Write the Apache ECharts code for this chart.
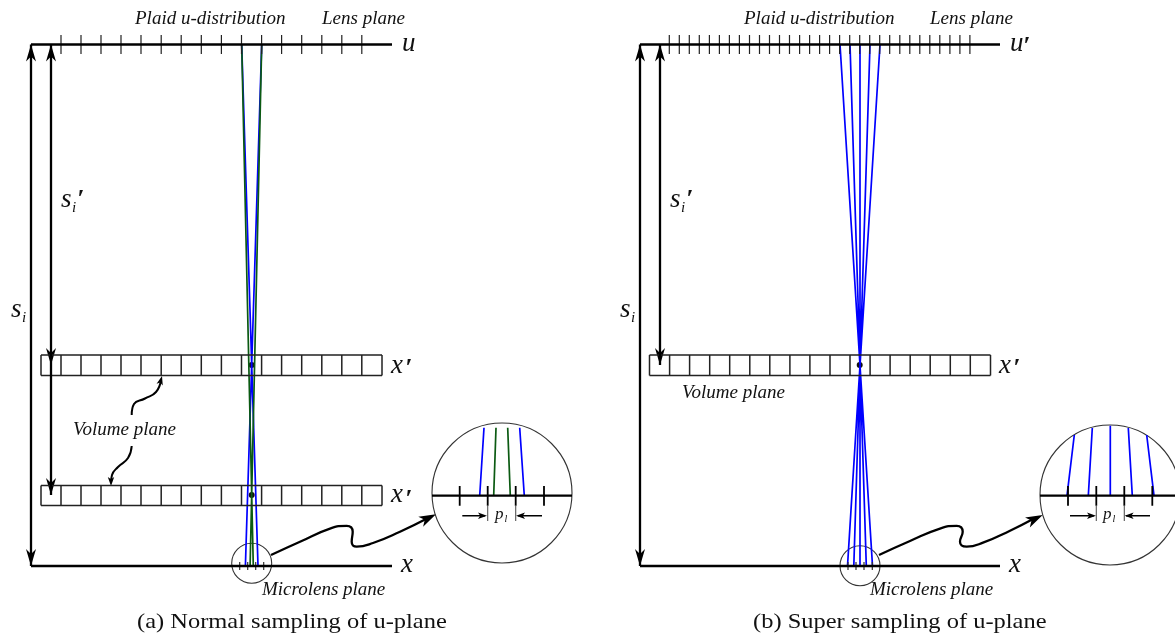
<!DOCTYPE html>
<html><head><meta charset="utf-8">
<style>html,body{margin:0;padding:0;background:#fff}#c{width:1175px;height:638px}</style>
<script src="https://cdn.jsdelivr.net/npm/echarts@6/dist/echarts.min.js"></script>
</head><body><div id="c"></div>
<script>
// ---- plane positions ----
const uTicksA = [61,81,101,121,141,161.2,181.2,201.3,221.4,241.5,261.6,281.6,301.7,321.8,341.8,361.8];
const uTicksB = [669.3,679.3,689.3,699.3,709.4,719.4,729.4,739.4,749.5,759.5,769.5,779.5,789.5,799.6,809.6,819.6,829.6,839.6,849.7,859.7,869.7,879.7,889.7,899.8,909.8,919.8,929.8,939.8,949.9,959.9,969.9];
const cellsA = [41,61,81,101,121,141,161.2,181.2,201.3,221.4,241.5,261.6,281.6,301.7,321.8,341.8,361.8,382];
const cellsB = [649.5,669.6,689.6,709.7,729.7,749.8,769.8,789.9,809.9,830,850,870.1,890.1,910.2,930.2,950.3,970.3,990.5];
const xTicksA = [239.7,247.7,255.7,263.7];
const xTicksB = [848,856,864,872.3];
const zoomTicksA = [459.7,487.7,515.7,544];
const zoomTicksB = [1068,1096.3,1124.3,1152.3];

// ---- rays: [x0,y0,x1,y1] ----
const blueRays = [
  [241.7,44.5,258,566],[261.7,44.5,245.4,566],
  [840,44.5,872.5,566],[850,44.5,866.3,566],[860,44.5,860,566],[870,44.5,853.8,566],[880,44.5,847.5,566],
  [484,427.7,479.7,495.7],[519.7,427.7,524.3,495.7],
  [1074.3,435,1067,495.7],[1092.3,428,1088.3,495.7],[1110.3,425.7,1110.3,495.7],[1128.3,428,1132.3,495.7],[1146.7,435,1154,495.7]
];
const greenRays = [
  [241.7,44.5,253.3,566],[261.7,44.5,250.1,566],
  [496,427.7,493.7,495.7],[507.7,427.7,510.3,495.7]
];

// ---- straight black segments ----
const axisLines = [
  [31,44.5,392,44.5],[31,566,392,566],[31,44.5,31,566],[51,44.5,51,495],
  [640,44.5,1000,44.5],[640,566,1000,566],[640,44.5,640,566],[660,44.5,660,365],
  [432,495.7,572,495.7],[1040,495.7,1175,495.7]
];
const dimLines = [[462.3,515.7,485,515.7],[542,515.7,518,515.7],[1070,515.7,1094,515.7],[1150,515.7,1126,515.7]];
const boxRows = [[355,375.5,'A'],[485.5,505.5,'A'],[355,375.5,'B']];

// ---- curved leaders ----
const leaderA = [[271,555],[300,541.8],[330,528.6],[346.7,525.8],[352.7,531.7],[351.7,541.7],[356.7,546.7],[373,543],[400,531.7],[428,518]];
const leaderB = [[879,555],[910,541],[940,528.6],[956.7,525.8],[962.7,531.7],[960,541.7],[966.7,546.7],[983,542.7],[1010,530.7],[1035,518]];
const volumeUp = [[131.7,415],[134,404],[145,398.5],[156,392],[161,380]];
const volumeDown = [[131.7,446],[128,458],[118,467],[112,475],[111,483]];

// ---- arrow tips: [x,y,directionDegrees] (0 = right, 90 = down) ----
const largeHeads = [[31,44.5,-90],[51,44.5,-90],[51,365,90],[51,495,90],[31,566,90],[640,44.5,-90],[660,44.5,-90],[660,365,90],[640,566,90]];
const leaderHeads = [[436,514.3,-26],[1042.7,515,-26]];
const smallHeads = [[162,376,-75],[111,486,90],[487,515.7,0],[516,515.7,180],[1096,515.7,0],[1124.6,515.7,180]];

// ---- circles and dots: [x,y] ----
const smallCircles = [[251.7,563.3],[860,565.7]];
const bigCircles = [[502,493],[1110,495]];
const focusDots = [[251.7,365],[251.7,495],[859.7,365]];

// ---- text: [x,y,string,styleKey] ----
const texts = [
  [135,19,'Plaid u-distribution','note'],[322,19,'Lens plane','note'],
  [744,19,'Plaid u-distribution','note'],[930,19,'Lens plane','note'],
  [73,430,'Volume plane','note'],[682,393,'Volume plane','note'],
  [262,590,'Microlens plane','note'],[870,590,'Microlens plane','note'],
  [402,44,'u','sym'],[1010,44,"u",'sym'],[1023,47,'\u2032','prime'],
  [401,565,'x','sym'],[1009,565,'x','sym'],
  [391,366,'x','sym'],[405,369,'\u2032','prime'],[391,495,'x','sym'],[405,500,'\u2032','prime'],[999,366,'x','sym'],[1013,369,'\u2032','prime'],
  [11,310,'s','sym'],[22,318,'i','sub'],[61,200,'s','sym'],[72,208,'i','sub'],[77,200,'\u2032','prime'],
  [620,310,'s','sym'],[631,318,'i','sub'],[670,200,'s','sym'],[681,208,'i','sub'],[686,200,'\u2032','prime'],
  [495,515,'p','pl'],[504.5,519,'l','plsub'],[1103,515,'p','pl'],[1112.5,519,'l','plsub'],
  [137,622,'(a) Normal sampling of u-plane','cap'],[753,622,'(b) Super sampling of u-plane','cap']
];

// ---- styles ----
const textStyles = {
  note:'italic 19px "Liberation Serif"', sym:'italic 27px "Liberation Serif"', sub:'italic 15px "Liberation Serif"',
  prime:'italic bold 26px "Liberation Serif"', pl:'italic 17px "Liberation Serif"', plsub:'italic 10px "Liberation Serif"',
  cap:'21px "Liberation Serif"'
};
const textStretch = {cap:1.165};

// helpers turn plain lists into library data
const polyline = segs => segs.flatMap(s => [[s[0],s[1]],[s[2],s[3]],[null,null]]);
const vticks = (xs,y0,y1) => xs.map(x => [x,y0,x,y1]);
const boxSegs = boxRows.flatMap(([t,b,p]) => {
  const c = p === 'A' ? cellsA : cellsB, l = c[0], r = c[c.length-1];
  return [[l,t,r,t],[l,b,r,b],...vticks(c,t,b)];
});
const line = (segs,color,width) => ({type:'line',data:polyline(segs),symbol:'none',silent:true,connectNulls:false,lineStyle:{color,width,cap:'butt'},clip:false});
const curve = (pts,width) => ({type:'line',data:pts,symbol:'none',smooth:0.5,silent:true,lineStyle:{color:'#000',width},clip:false});
const heads = (data,len,hw,notch) => ({type:'custom',data,silent:true,clip:false,
  renderItem:(p,api)=>{
    const c = api.coord([api.value(0),api.value(1)]), a = api.value(2)*Math.PI/180;
    const rot = (u,v)=>[c[0]+u*Math.cos(a)-v*Math.sin(a), c[1]+u*Math.sin(a)+v*Math.cos(a)];
    return {type:'polygon',shape:{points:[rot(0,0),rot(-len,-hw),rot(-len+notch,0),rot(-len,hw)]},style:{fill:'#000'}};
  }});
const circles = (data,size,color,bw) => ({type:'scatter',data,symbol:'circle',symbolSize:size,silent:true,clip:false,
  itemStyle:bw?{color:'rgba(0,0,0,0)',borderColor:color,borderWidth:bw,opacity:1}:{color,opacity:1}});

const option = {
  animation:false,
  backgroundColor:'#fff',
  grid:{left:0,top:0,right:0,bottom:0,containLabel:false},
  xAxis:{type:'value',min:0,max:1175,show:false},
  yAxis:{type:'value',min:0,max:638,inverse:true,show:false},
  series:[
    line(blueRays,'#0000ff',1.7),
    line(greenRays,'#0b5a12',1.7),
    line(boxSegs,'#222',1.5),
    line([...vticks(uTicksA,35,54),...vticks(uTicksB,35,54)],'#222',1.2),
    line([...vticks(xTicksA,562,570),...vticks(xTicksB,562,570)],'#333',1.2),
    line([...vticks(zoomTicksA,486,505.7),...vticks(zoomTicksB,486,505.7)],'#000',1.8),
    line([...vticks([487.7,515.7,1096.3,1124.3],505.7,521)],'#555',1.1),
    line(axisLines,'#000',2.3),
    line(dimLines,'#000',1.5),
    curve(leaderA,2.3),curve(leaderB,2.3),curve(volumeUp,2),curve(volumeDown,2),
    heads(largeHeads,17,5,5),
    heads(leaderHeads,17,5.5,4.5),
    heads(smallHeads,9,3.2,2.2),
    circles(smallCircles,40,'#333',1.1),
    circles(bigCircles,140,'#333',1.1),
    circles(focusDots,6,'#111'),
    {type:'custom',data:texts.map(t=>[t[0],t[1]]),silent:true,clip:false,
     renderItem:(p,api)=>{
       const t = texts[p.dataIndex], c = api.coord([api.value(0),api.value(1)]);
       return {type:'text',x:c[0],y:c[1],scaleX:textStretch[t[3]]||1,
               style:{text:t[2],x:0,y:0,font:textStyles[t[3]],fill:'#111',textAlign:'left',textVerticalAlign:'middle'}};
     }}
  ]
};
echarts.init(document.getElementById('c'),null,{renderer:'canvas'}).setOption(option);
</script></body></html>
